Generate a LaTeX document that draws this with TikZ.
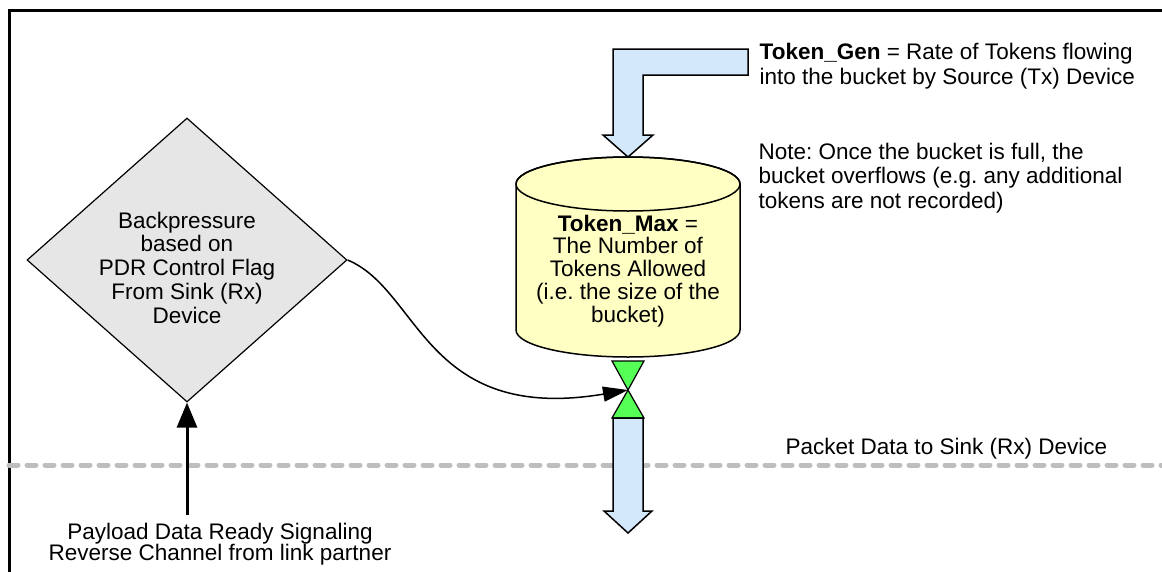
\documentclass[tikz,border=0pt]{standalone}
\usepackage{fontspec}
\setmainfont{Liberation Sans}
\frenchspacing
\usetikzlibrary{shapes.geometric,arrows.meta}
\definecolor{decisiongray}{RGB}{230,230,230}
\definecolor{bucketyellow}{RGB}{255,255,196}
\definecolor{flowblue}{RGB}{212,232,252}
\definecolor{valvegreen}{RGB}{85,255,85}
\definecolor{railgray}{RGB}{190,190,190}
\tikzset{
  txt/.style={font=\fontsize{22.5}{24}\selectfont, inner sep=0pt},
  decision/.style={diamond, draw, line width=1.2pt, fill=decisiongray,
    minimum width=320pt, minimum height=284pt, inner sep=0pt, aspect=1.13},
  blockarrow/.style={draw, line width=1.5pt, fill=flowblue, line join=miter},
  valve/.style={draw, line width=1.2pt, fill=valvegreen, line join=miter},
  bucket/.style={draw, line width=1.5pt, fill=bucketyellow},
  rail/.style={draw=railgray, line width=5pt, line cap=round, dash pattern=on 9pt off 9pt},
  frame/.style={draw, line width=3pt},
}
\begin{document}
\begin{tikzpicture}[x=1pt, y=-1pt]
\useasboundingbox (0,0) rectangle (1162,571);
\clip (0,0) rectangle (1162,571);

% outer frame (continues past the page edge)
\draw[frame] (9,590) -- (9,10) -- (1180,10);

% packet data rail
\draw[rail] (9,465) -- (1170,465);
\node[txt, anchor=north west] (railtext) at (785.5,437.5) {Packet Data to Sink (Rx) Device};

% decision diamond
\node[decision] (bp) at (187,260) {};
\node[txt, anchor=north, align=center, font=\fontsize{22.5}{23.8}\selectfont] (bptext) at (187,211.5)
  {Backpressure\\based on\\PDR Control Flag\\From Sink (Rx)\\Device};

% reverse-channel signal arrow
\coordinate (pdr) at (187,515);
\draw[line width=3pt, -{Triangle[length=25pt,width=20pt]}] (pdr) -- (bp.south);
\node[txt, anchor=north, align=center, font=\fontsize{22.5}{20.5}\selectfont] (pdrtext) at (220,522.5)
  {Payload Data Ready Signaling\\Reverse Channel from link partner};

% token bucket (cylinder)
\coordinate (bktop) at (628,157);
\path[bucket] (516,184) -- (516,330) arc[start angle=180, end angle=0, x radius=112, y radius=27]
  -- (740,184) arc[start angle=0, end angle=-180, x radius=112, y radius=27] -- cycle;
\draw[line width=1.5pt] (628,184) ellipse[x radius=112, y radius=27];
\node[txt, anchor=north, align=center, font=\fontsize{22.5}{22.8}\selectfont] (bktext) at (628,214.5)
  {\textbf{Token\_Max} =\\The Number of\\Tokens Allowed\\(i.e. the size of the\\bucket)};

% token generation inflow (L-shaped block arrow)
\path[blockarrow] (748,49) -- (613,49) -- (613,135) -- (603,135) -- (bktop) -- (653,135) -- (643,135)
  -- (643,75) -- (748,75) -- cycle;
\node[txt, anchor=north west, align=left, font=\fontsize{22.5}{25}\selectfont] (gentext) at (759.5,42.5)
  {\textbf{Token\_Gen} = Rate of Tokens flowing\\into the bucket by Source (Tx) Device};

% note
\node[txt, anchor=north west, align=left, font=\fontsize{22.5}{24.5}\selectfont] (note) at (758.3,142.5)
  {Note: Once the bucket is full, the\\bucket overflows (e.g. any additional\\tokens are not recorded)};

% valve
\coordinate (valve) at (628,390);
\path[valve] (612,361) -- (644,361) -- (valve) -- cycle;
\path[valve] (612,418) -- (644,418) -- (valve) -- cycle;

% outflow arrow
\coordinate (outtip) at (628,533);
\path[blockarrow] (613,418) -- (613,511) -- (604,511) -- (outtip) -- (652,511) -- (643,511) -- (643,418) -- cycle;

% backpressure control to valve
\draw[line width=1.5pt, -{Triangle[length=25pt,width=15pt]}] (bp.east) .. controls (420,290) and (425,424) .. (valve);
\end{tikzpicture}
\end{document}
